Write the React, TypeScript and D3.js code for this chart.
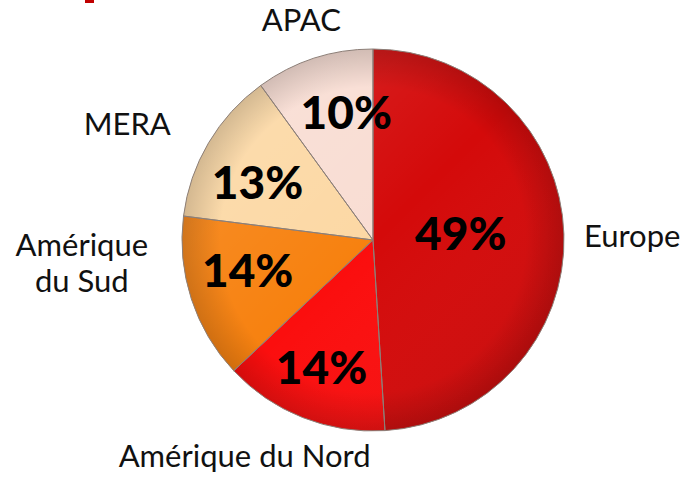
import React from 'react';
import * as d3 from 'd3';

// Regional split of the chart
const regions = ['Europe', 'Amérique du Nord', 'Amérique du Sud', 'MERA', 'APAC'];
const shares = [49, 14, 14, 13, 10];
const colors = ['#d40a0a', '#fb0e0e', '#f7810f', '#fcd8a4', '#f9ddd3'];

// Name labels: some split over two lines
const nameLines: Record<string, string[]> = {
  'Europe': ['Europe'],
  'Amérique du Nord': ['Amérique du Nord'],
  'Amérique du Sud': ['Amérique', 'du Sud'],
  'MERA': ['MERA'],
  'APAC': ['APAC'],
};

// Layout nudges for the outer labels (px)
const labelNudge: Record<string, [number, number]> = {
  'Europe': [11, 4],
  'Amérique du Nord': [-37, -15],
  'Amérique du Sud': [-55, -54],
  'MERA': [-32, 10],
  'APAC': [5, 16],
};

// Layout nudges for the percentages (px)
const pctNudge: Record<string, [number, number]> = {
  'Europe': [0, -4],
  'Amérique du Nord': [-3, 5],
  'Amérique du Sud': [0, -10],
  'MERA': [-2, 10],
  'APAC': [14, -2],
};

const width = 683;
const height = 478;
const cx = 373;
const cy = 240;
const radius = 191;

export default function App() {
  const data = regions.map((name, i) => ({ name, value: shares[i], color: colors[i] }));

  const pie = d3.pie<any>().sort(null).value((d) => d.value);
  const arcs = pie(data);

  const arc = d3.arc<any>().innerRadius(0).outerRadius(radius);
  const outerArc = d3.arc<any>().innerRadius(radius * 1.3).outerRadius(radius * 1.3);

  const pctPos = (a: any) => {
    const r = a.data.value > 40 ? radius * 0.46 : radius * 0.69;
    return d3.arc<any>().innerRadius(r).outerRadius(r).centroid(a);
  };

  return (
    <svg width={width} height={height} style={{ position: 'absolute', left: 0, top: 0 }}>
      <defs>
        <radialGradient id="rim" cx="50%" cy="50%" r="50%">
          <stop offset="0%" stopColor="#000" stopOpacity={0} />
          <stop offset="80%" stopColor="#000" stopOpacity={0} />
          <stop offset="100%" stopColor="#000" stopOpacity={0.16} />
        </radialGradient>
        <linearGradient id="gloss" x1="0" y1="0" x2="1" y2="1">
          <stop offset="0%" stopColor="#fff" stopOpacity={0.15} />
          <stop offset="50%" stopColor="#fff" stopOpacity={0} />
          <stop offset="100%" stopColor="#000" stopOpacity={0.1} />
        </linearGradient>
      </defs>

      <rect x={85} y={0} width={9} height={3} fill="#c00000" />

      <g transform={`translate(${cx},${cy})`}>
        {arcs.map((a, i) => (
          <path key={i} d={arc(a) as string} fill={a.data.color} />
        ))}
        <circle r={radius} fill="url(#gloss)" />
        <circle r={radius} fill="url(#rim)" />
        {arcs.map((a, i) => (
          <path key={'s' + i} d={arc(a) as string} fill="none" stroke="#8c7f78" strokeWidth={1} />
        ))}

        {arcs.map((a, i) => {
          const [x, y] = pctPos(a);
          const [dx, dy] = pctNudge[a.data.name];
          return (
            <text key={'p' + i} x={x + dx} y={y + dy} dy="0.36em" textAnchor="middle"
              fontFamily="Lato, 'DejaVu Sans', sans-serif" fontWeight={900} fontSize={46} fill="#000">
              {a.data.value}%
            </text>
          );
        })}

        {arcs.map((a, i) => {
          const [x, y] = outerArc.centroid(a);
          const [dx, dy] = labelNudge[a.data.name];
          const lines = nameLines[a.data.name];
          const lh = 36;
          const y0 = y + dy - ((lines.length - 1) * lh) / 2;
          return (
            <g key={'n' + i}>
              {lines.map((l, j) => (
                <text key={j} x={x + dx} y={y0 + j * lh} dy="0.36em" textAnchor="middle"
                  fontFamily="Lato, 'Noto Sans', sans-serif" fontSize={31} fill="#111">
                  {l}
                </text>
              ))}
            </g>
          );
        })}
      </g>
    </svg>
  );
}
